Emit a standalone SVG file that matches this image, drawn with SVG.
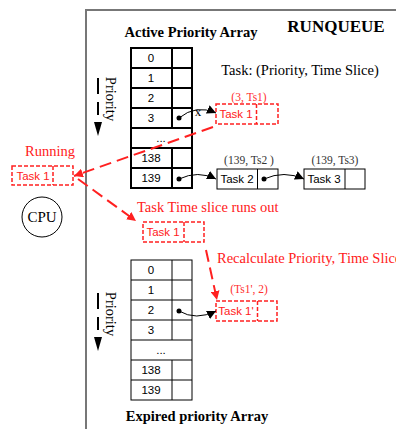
<svg xmlns="http://www.w3.org/2000/svg" width="396" height="429" viewBox="0 0 396 429">
  <style>
    .serif { font-family: "Liberation Serif", "Times New Roman", serif; }
    .cell { font-family: "Liberation Sans", Arial, sans-serif; font-size: 11.5px; text-anchor: middle; fill: #000; }
    .title { font-family: "Liberation Serif", "Times New Roman", serif; font-weight: bold; font-size: 14.5px; text-anchor: middle; }
    .lbl { font-family: "Liberation Serif", "Times New Roman", serif; font-size: 11.5px; text-anchor: middle; fill: #333; }
    .rlbl { font-family: "Liberation Serif", "Times New Roman", serif; font-size: 11.5px; text-anchor: middle; fill: #ff3030; }
    .rtxt { font-family: "Liberation Serif", "Times New Roman", serif; font-size: 14.5px; fill: #ff2020; }
    .thick { fill: #fff; stroke: #000; stroke-width: 2; }
    .thin { fill: #fff; stroke: #000; stroke-width: 1; }
    .box { fill: #fff; stroke: #000; stroke-width: 1; }
    .rbox { fill: #fff; stroke: #ff2020; stroke-width: 1.5; stroke-dasharray: 4 2; }
    .rtask { font-family: "Liberation Sans", Arial, sans-serif; font-size: 11.5px; fill: #ff2020; text-anchor: middle; }
    .task { font-family: "Liberation Sans", Arial, sans-serif; font-size: 11.5px; fill: #000; text-anchor: middle; }
    .link { fill: none; stroke: #000; stroke-width: 1; marker-end: url(#blk); }
    .move { fill: none; stroke: #ff2020; stroke-width: 2; stroke-dasharray: 12 6; marker-end: url(#red); }
    .vtxt { font-family: "Liberation Serif", "Times New Roman", serif; font-size: 14.5px; text-anchor: middle; dominant-baseline: central; }
  </style>
  <defs>
    <marker id="blk" viewBox="0 0 10 10" refX="10" refY="5" markerWidth="9" markerHeight="9" markerUnits="userSpaceOnUse" orient="auto">
      <path d="M0,0 L10,5 L0,10 Z" fill="#000"/>
    </marker>
    <marker id="red" viewBox="0 0 10 10" refX="10" refY="5" markerWidth="9" markerHeight="9" markerUnits="userSpaceOnUse" orient="auto">
      <path d="M0,0 L10,5 L0,10 Z" fill="#ff2020"/>
    </marker>
  </defs>

  <rect width="396" height="429" fill="#fff"/>

  <!-- runqueue frame -->
  <g id="runqueue">
    <path d="M86,429 L86,10 L396,10" fill="none" stroke="#777" stroke-width="2"/>
    <text x="336" y="32" class="serif" font-weight="bold" font-size="17" text-anchor="middle">RUNQUEUE</text>
    <text x="300" y="75" class="serif" font-size="14.5" text-anchor="middle">Task: (Priority, Time Slice)</text>
  </g>

  <!-- active priority array -->
  <g id="active-array">
    <text x="191" y="37" class="title">Active Priority Array</text>
    <rect x="131" y="48" width="61" height="140" class="thick"/>
    <path d="M131,68 H192 M131,88 H192 M131,108 H192 M131,128 H192 M131,148 H192 M131,168 H192 M172,48 V128 M172,148 V188" stroke="#000" stroke-width="2" fill="none"/>
    <text x="151" y="62" class="cell">0</text>
    <text x="151" y="82" class="cell">1</text>
    <text x="151" y="102" class="cell">2</text>
    <text x="151" y="122" class="cell">3</text>
    <text x="161" y="142" class="cell">...</text>
    <text x="151" y="162" class="cell">138</text>
    <text x="151" y="182" class="cell">139</text>
    <circle cx="179" cy="118" r="2.5" fill="#000"/>
    <circle cx="179" cy="179" r="2.5" fill="#000"/>
  </g>

  <g id="active-priority">
    <path d="M98,78 V94 M98,102 V115" stroke="#000" stroke-width="2"/>
    <path d="M94,122 L102,122 L98,136 Z" fill="#000"/>
    <text x="111" y="99" class="vtxt" transform="rotate(90 111 99)">Priority</text>
  </g>

  <!-- task 1 in the active array -->
  <g id="task1-active">
    <text x="249" y="101" class="rlbl">(3, Ts1)</text>
    <rect x="216" y="104" width="62" height="20" class="rbox"/>
    <line x1="256.5" y1="104" x2="256.5" y2="124" stroke="#ff2020" stroke-width="1.5" stroke-dasharray="4 2"/>
    <text x="236" y="118" class="rtask">Task 1</text>
  </g>

  <g id="task2">
    <text x="249" y="164" class="lbl">(139, Ts2 )</text>
    <rect x="217" y="169" width="61" height="20" class="box"/>
    <line x1="257.5" y1="169" x2="257.5" y2="189" stroke="#000"/>
    <text x="237" y="183" class="task">Task 2</text>
    <circle cx="264" cy="179" r="2.5" fill="#000"/>
  </g>

  <g id="task3">
    <text x="335" y="164" class="lbl">(139, Ts3)</text>
    <rect x="304" y="169" width="61" height="20" class="box"/>
    <line x1="345" y1="169" x2="345" y2="189" stroke="#000"/>
    <text x="324" y="183" class="task">Task 3</text>
  </g>

  <!-- running task and CPU -->
  <g id="running">
    <text x="50" y="156" class="rtxt" text-anchor="middle">Running</text>
    <rect x="12" y="166" width="61" height="19" class="rbox"/>
    <line x1="53" y1="166" x2="53" y2="185" stroke="#ff2020" stroke-width="1.5" stroke-dasharray="4 2"/>
    <text x="33" y="180" class="rtask">Task 1</text>
  </g>

  <g id="cpu">
    <circle cx="42" cy="217" r="20" fill="#fff" stroke="#000" stroke-width="1"/>
    <text x="42" y="222" class="serif" font-size="15" text-anchor="middle">CPU</text>
  </g>

  <!-- task 1 after its slice runs out -->
  <g id="task1-expired">
    <text x="137" y="212" class="rtxt">Task Time slice runs out</text>
    <rect x="143" y="222" width="61" height="20" class="rbox"/>
    <line x1="184" y1="222" x2="184" y2="242" stroke="#ff2020" stroke-width="1.5" stroke-dasharray="4 2"/>
    <text x="163" y="236" class="rtask">Task 1</text>
    <text x="217" y="263" class="rtxt">Recalculate Priority, Time Slice</text>
  </g>

  <!-- expired priority array -->
  <g id="expired-array">
    <rect x="131" y="260" width="61" height="140" class="thin"/>
    <path d="M131,280 H192 M131,300 H192 M131,320 H192 M131,340 H192 M131,360 H192 M131,380 H192 M172,260 V340 M172,360 V400" stroke="#000" stroke-width="1" fill="none"/>
    <text x="151" y="274" class="cell">0</text>
    <text x="151" y="294" class="cell">1</text>
    <text x="151" y="314" class="cell">2</text>
    <text x="151" y="334" class="cell">3</text>
    <text x="161" y="354" class="cell">...</text>
    <text x="151" y="374" class="cell">138</text>
    <text x="151" y="394" class="cell">139</text>
    <circle cx="179" cy="311" r="2.5" fill="#000"/>
    <text x="197" y="421" class="title">Expired priority Array</text>
  </g>

  <g id="expired-priority">
    <path d="M98,293 V309 M98,317 V330" stroke="#000" stroke-width="2"/>
    <path d="M94,337 L102,337 L98,351 Z" fill="#000"/>
    <text x="111" y="314" class="vtxt" transform="rotate(90 111 314)">Priority</text>
  </g>

  <g id="task1-new">
    <text x="249" y="293" class="rlbl">(Ts1', 2)</text>
    <rect x="216" y="301" width="61" height="20" class="rbox"/>
    <line x1="257.5" y1="301" x2="257.5" y2="321" stroke="#ff2020" stroke-width="1.5" stroke-dasharray="4 2"/>
    <text x="236" y="315" class="rtask">Task 1'</text>
  </g>

  <!-- connectors -->
  <g id="connectors">
    <path d="M179,118 Q196,104 216,113" class="link"/>
    <text x="198" y="116" class="serif" font-size="13" text-anchor="middle">x</text>
    <path d="M179,179 Q198,170 216,179" class="link"/>
    <path d="M264,179 Q284,170 304,179" class="link"/>
    <path d="M179,311 Q196,321 216,311" class="link"/>
    <path d="M213,127 L74,176" class="move"/>
    <path d="M78,179 L136,221" class="move"/>
    <path d="M206,250 L217,300" class="move"/>
  </g>
</svg>
